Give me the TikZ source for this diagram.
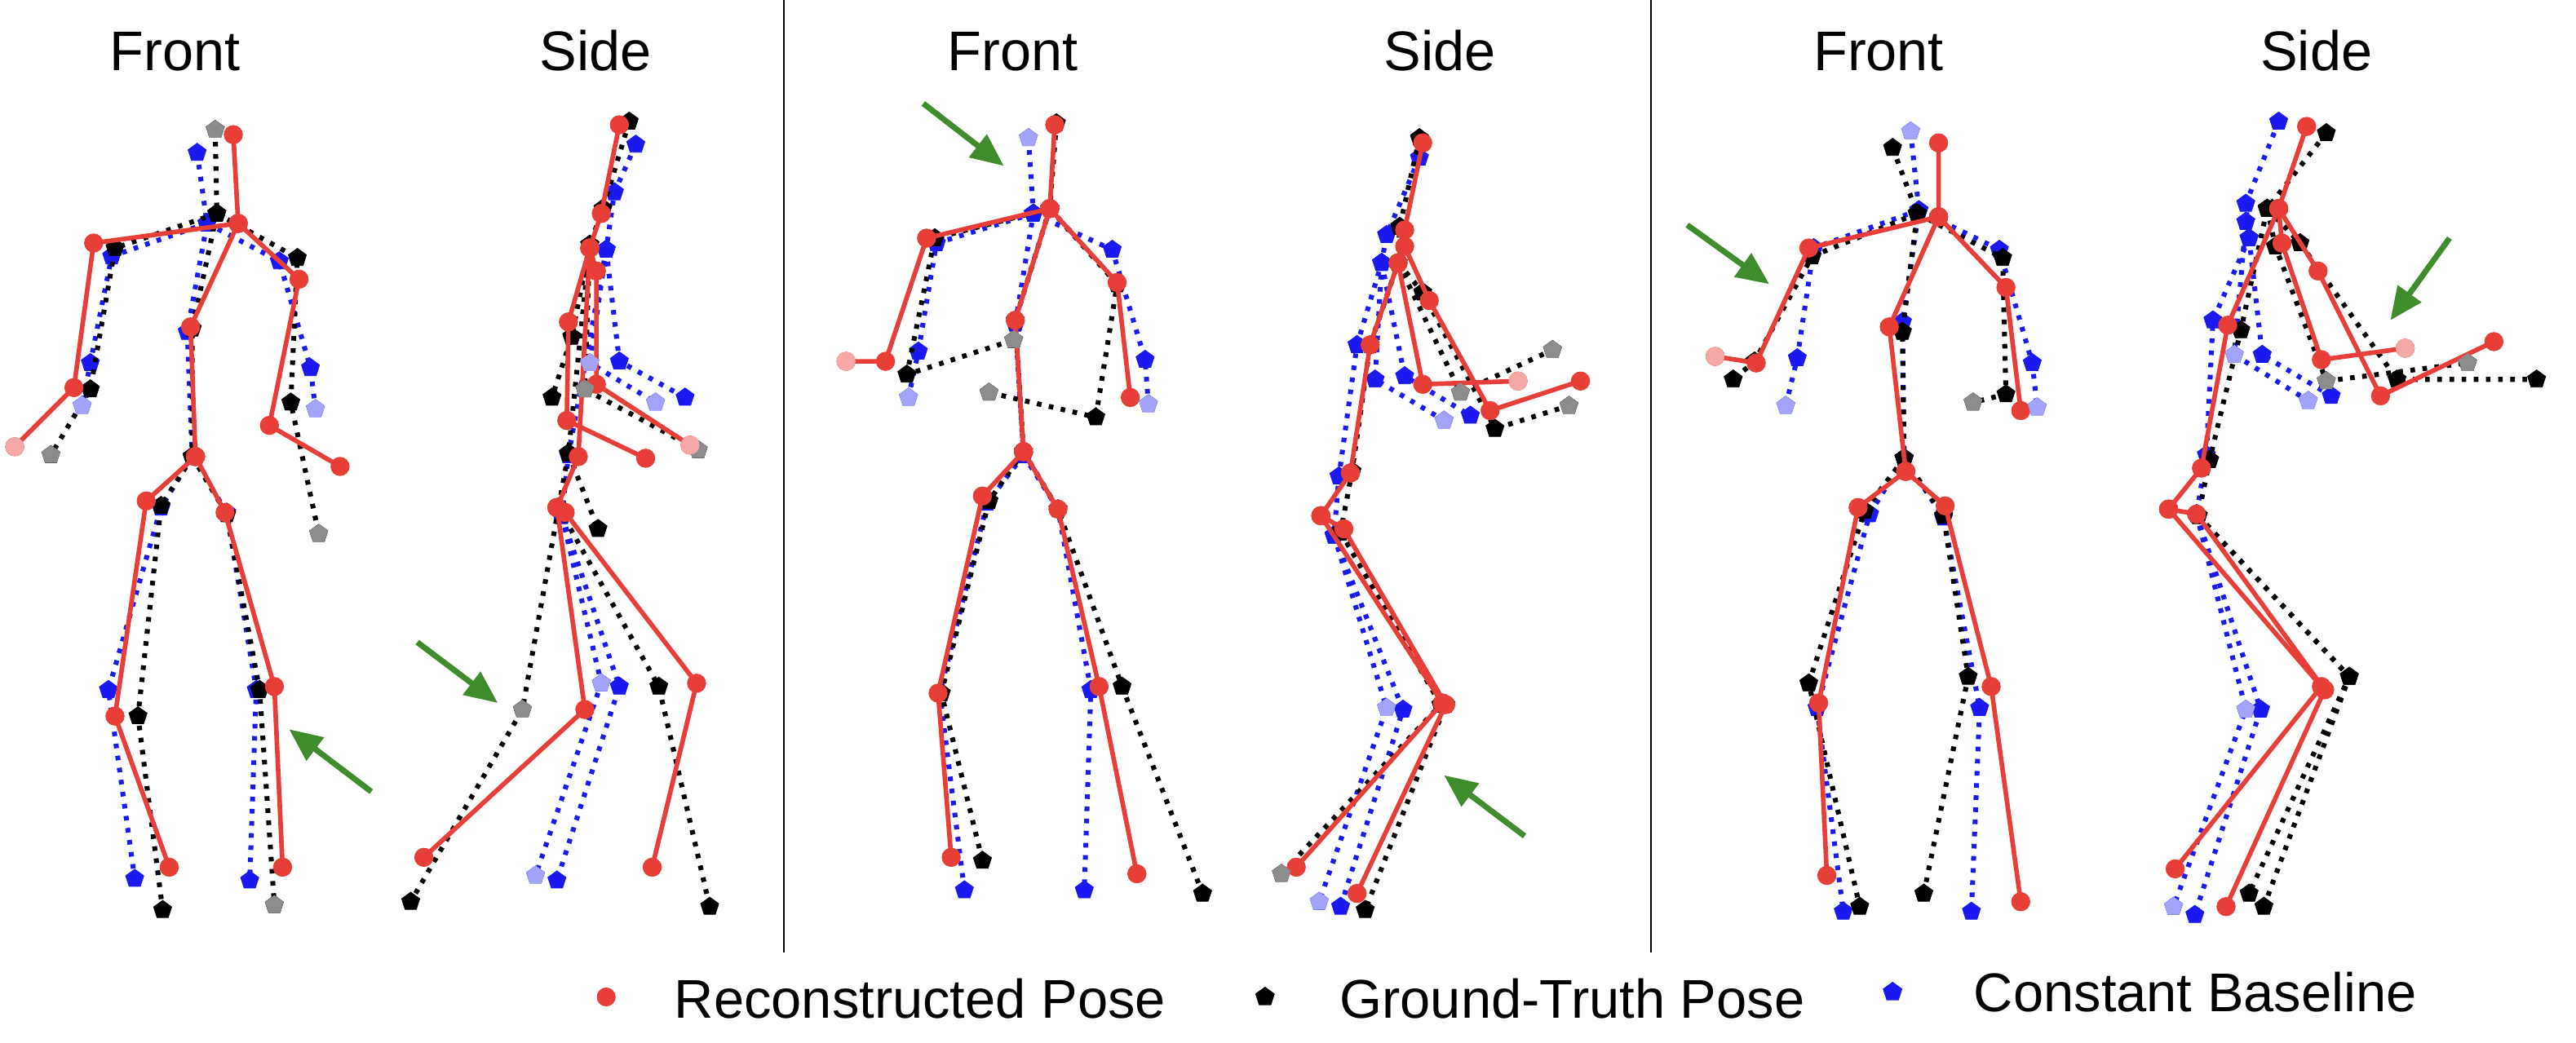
\documentclass[tikz,border=0pt]{standalone}
\usepackage{fontspec}
\setmainfont{Liberation Sans}
\usetikzlibrary{plotmarks,arrows.meta,shapes.geometric}
\definecolor{rcol}{RGB}{232,62,56}
\definecolor{bcol}{RGB}{25,25,240}
\definecolor{gcol}{RGB}{62,140,44}
\tikzset{
 redpose/.style={draw=rcol, line width=2.8pt, line join=round, mark=*, mark size=5.6pt, mark options={solid, draw=rcol, fill=rcol, line width=0.4pt}},
 gtpose/.style={draw=black, line width=3pt, dash pattern=on 2.8pt off 4.6pt, mark=pentagon*, mark size=5.8pt, mark options={solid, draw=black, fill=black, line width=0.4pt}},
 basepose/.style={draw=bcol, line width=3pt, dash pattern=on 2.8pt off 4.6pt, mark=pentagon*, mark size=5.8pt, mark options={solid, draw=bcol, fill=bcol, line width=0.4pt}},
 redfade/.style={circle, fill=rcol!45!white, inner sep=0pt, minimum size=11.5pt},
 gtfade/.style={regular polygon, regular polygon sides=5, fill=black!45, inner sep=0pt, minimum size=12pt},
 basefade/.style={regular polygon, regular polygon sides=5, fill=bcol!40!white, inner sep=0pt, minimum size=12pt},
 ttl/.style={font=\fontsize{34}{40}\selectfont, anchor=base},
 legtext/.style={font=\fontsize{33.2}{40}\selectfont, anchor=base west},
 hint/.style={draw=gcol, line width=3.5pt, -{Triangle[length=20pt,width=17pt]}},
 divider/.style={draw=black, line width=0.9pt},
}
\begin{document}
\begin{tikzpicture}[x=1pt,y=-1pt]
\useasboundingbox (0,0) rectangle (1568,635);
\fill[white] (0,0) rectangle (1568,635);

% dividers
\coordinate (d1t) at (477,0); \coordinate (d1b) at (477,580);
\coordinate (d2t) at (1005,0); \coordinate (d2b) at (1005,580);
\draw[divider] (d1t) -- (d1b);
\draw[divider] (d2t) -- (d2b);

% titles
\node[ttl] (t1) at (106.5,42.7) {Front};
\node[ttl] (t2) at (362.5,42.7) {Side};
\node[ttl] (t3) at (616.5,42.7) {Front};
\node[ttl] (t4) at (876.5,42.7) {Side};
\node[ttl] (t5) at (1143.5,42.7) {Front};
\node[ttl] (t6) at (1410,42.7) {Side};

% ================= Panel 1 front =================
\draw[basepose] plot coordinates {(120,93) (126,136) (114,202) (117,278)};
\draw[basepose] plot coordinates {(126,136) (68,156) (55,221) (50,247)};
\draw[basepose] plot coordinates {(126,136) (170,159) (189,224) (192,249)};
\draw[basepose] plot coordinates {(117,278) (98,309) (66,420) (82,535)};
\draw[basepose] plot coordinates {(117,278) (138,312) (156,420) (152,536)};
\draw[gtpose] plot coordinates {(131,79) (132,130) (117,200) (117,278)};
\draw[gtpose] plot coordinates {(132,130) (70,151) (55,237) (31,277)};
\draw[gtpose] plot coordinates {(132,130) (181,157) (177,245) (194,325)};
\draw[gtpose] plot coordinates {(117,278) (98,308) (84,436) (99,554)};
\draw[gtpose] plot coordinates {(117,278) (138,313) (158,420) (167,551)};
\draw[redpose] plot coordinates {(142,82) (145,136) (116,199) (119,278)};
\draw[redpose] plot coordinates {(145,136) (57,148) (45,236) (9,272)};
\draw[redpose] plot coordinates {(145,136) (182,170) (164,259) (207,284)};
\draw[redpose] plot coordinates {(119,278) (89,305) (70,436) (103,528)};
\draw[redpose] plot coordinates {(119,278) (137,312) (167,418) (172,528)};

% ================= Panel 1 side =================
\draw[basepose] plot coordinates {(387,88) (374,117) (369,152) (346,277) (342,314)};
\draw[basepose] plot coordinates {(369,152) (377,220) (417,242)};
\draw[basepose] plot coordinates {(369,152) (359,221) (399,245)};
\draw[basepose] plot coordinates {(342,314) (366,416) (326,533)};
\draw[basepose] plot coordinates {(342,314) (377,418) (339,536)};
\draw[gtpose] plot coordinates {(383,74) (367,127) (359,149) (346,276) (340,309)};
\draw[gtpose] plot coordinates {(359,149) (356,237) (425,274)};
\draw[gtpose] plot coordinates {(359,149) (348,205) (336,242)};
\draw[gtpose] plot coordinates {(346,276) (364,322)};
\draw[gtpose] plot coordinates {(340,309) (318,432) (250,549)};
\draw[gtpose] plot coordinates {(340,309) (401,418) (432,552)};
\draw[redpose] plot coordinates {(377,76) (366,130) (359,151) (352,278) (339,309)};
\draw[redpose] plot coordinates {(359,151) (363,165) (363,234) (420,271)};
\draw[redpose] plot coordinates {(359,151) (346,196) (345,256) (393,279)};
\draw[redpose] plot coordinates {(339,309) (356,432) (258,522)};
\draw[redpose] plot coordinates {(339,309) (344,312) (424,416) (397,528)};

% ================= Panel 2 front =================
\draw[basepose] plot coordinates {(626,84) (629,130) (618,197) (623,277)};
\draw[basepose] plot coordinates {(629,130) (570,148) (559,214) (553,242)};
\draw[basepose] plot coordinates {(629,130) (677,152) (697,219) (699,246)};
\draw[basepose] plot coordinates {(623,277) (601,306) (572,422) (587,542)};
\draw[basepose] plot coordinates {(623,277) (644,310) (664,420) (660,542)};
\draw[gtpose] plot coordinates {(643,75) (639,127) (618,195) (623,275)};
\draw[gtpose] plot coordinates {(639,127) (569,145) (552,228) (617,207)};
\draw[gtpose] plot coordinates {(639,127) (680,173) (667,254) (602,239)};
\draw[gtpose] plot coordinates {(623,275) (602,305) (573,422) (598,524)};
\draw[gtpose] plot coordinates {(623,275) (644,310) (683,418) (732,544)};
\draw[redpose] plot coordinates {(642,76) (639,127) (618,195) (623,275)};
\draw[redpose] plot coordinates {(639,127) (564,145) (539,220) (515,220)};
\draw[redpose] plot coordinates {(639,127) (680,172) (688,242)};
\draw[redpose] plot coordinates {(623,275) (598,302) (571,422) (579,522)};
\draw[redpose] plot coordinates {(623,275) (644,310) (669,418) (692,532)};

% ================= Panel 2 side =================
\draw[basepose] plot coordinates {(864,96) (844,143) (841,160) (826,210) (815,290) (812,326)};
\draw[basepose] plot coordinates {(841,160) (837,231) (879,256)};
\draw[basepose] plot coordinates {(841,160) (855,229) (895,253)};
\draw[basepose] plot coordinates {(812,326) (844,431) (803,549)};
\draw[basepose] plot coordinates {(812,326) (854,432) (816,552)};
\draw[gtpose] plot coordinates {(864,84) (852,138) (851,160) (834,210) (823,287) (816,324)};
\draw[gtpose] plot coordinates {(851,160) (866,178) (910,261) (955,247)};
\draw[gtpose] plot coordinates {(851,160) (889,239) (945,213)};
\draw[gtpose] plot coordinates {(816,324) (877,429) (780,532)};
\draw[gtpose] plot coordinates {(816,324) (880,429) (831,554)};
\draw[redpose] plot coordinates {(866,87) (855,140) (851,160) (834,210) (822,288) (804,314)};
\draw[redpose] plot coordinates {(851,160) (866,234) (924,232)};
\draw[redpose] plot coordinates {(855,150) (870,183) (907,250) (962,232)};
\draw[redpose] plot coordinates {(804,314) (878,428) (789,528)};
\draw[redpose] plot coordinates {(804,314) (818,322) (880,429) (826,544)};

% ================= Panel 3 front =================
\draw[basepose] plot coordinates {(1163,80) (1168,128) (1158,196) (1159,279)};
\draw[basepose] plot coordinates {(1168,128) (1104,151) (1094,218) (1087,247)};
\draw[basepose] plot coordinates {(1168,128) (1217,152) (1237,221) (1240,248)};
\draw[basepose] plot coordinates {(1159,279) (1138,313) (1106,431) (1122,555)};
\draw[basepose] plot coordinates {(1159,279) (1183,315) (1205,431) (1200,555)};
\draw[gtpose] plot coordinates {(1152,90) (1167,130) (1158,202) (1159,279)};
\draw[gtpose] plot coordinates {(1167,130) (1103,156) (1068,220) (1055,231)};
\draw[gtpose] plot coordinates {(1167,130) (1219,157) (1221,240) (1201,245)};
\draw[gtpose] plot coordinates {(1159,279) (1135,311) (1101,416) (1132,552)};
\draw[gtpose] plot coordinates {(1159,279) (1183,314) (1198,412) (1171,544)};
\draw[redpose] plot coordinates {(1180,87) (1180,132) (1150,199) (1160,287)};
\draw[redpose] plot coordinates {(1180,132) (1101,151) (1069,221) (1044,217)};
\draw[redpose] plot coordinates {(1180,132) (1221,175) (1230,250)};
\draw[redpose] plot coordinates {(1160,287) (1131,309) (1107,428) (1112,533)};
\draw[redpose] plot coordinates {(1160,287) (1184,308) (1212,418) (1230,549)};

% ================= Panel 3 side =================
\draw[basepose] plot coordinates {(1387,74) (1367,124) (1369,145) (1347,195) (1343,277) (1337,313)};
\draw[basepose] plot coordinates {(1369,145) (1377,216) (1419,241)};
\draw[basepose] plot coordinates {(1367,135) (1360,216) (1405,244)};
\draw[basepose] plot coordinates {(1337,313) (1367,432) (1323,552)};
\draw[basepose] plot coordinates {(1337,313) (1376,432) (1336,557)};
\draw[gtpose] plot coordinates {(1416,81) (1380,127) (1364,201) (1345,280) (1338,314)};
\draw[gtpose] plot coordinates {(1380,127) (1400,148) (1459,231) (1544,231)};
\draw[gtpose] plot coordinates {(1380,127) (1385,150) (1416,232) (1502,221)};
\draw[gtpose] plot coordinates {(1338,314) (1430,412) (1369,544)};
\draw[gtpose] plot coordinates {(1338,314) (1430,412) (1378,552)};
\draw[redpose] plot coordinates {(1404,77) (1387,127) (1356,198) (1340,285) (1320,310)};
\draw[redpose] plot coordinates {(1387,127) (1411,165) (1449,241) (1518,208)};
\draw[redpose] plot coordinates {(1387,127) (1389,148) (1413,219) (1464,212)};
\draw[redpose] plot coordinates {(1320,310) (1413,418) (1324,529)};
\draw[redpose] plot coordinates {(1320,310) (1337,313) (1415,420) (1355,552)};

% faded (transparent) joints
\foreach \p [count=\i] in {(50,247),(192,249),(359,221),(399,245),(366,416),(326,533),(553,242),(699,246),(626,84),(879,256),(844,431),(803,549),(1087,247),(1240,248),(1163,80),(1360,216),(1405,244),(1367,432),(1323,552)}
  \node[basefade] (bf\i) at \p {};
\foreach \p [count=\i] in {(31,277),(194,325),(167,551),(131,79),(356,237),(425,274),(318,432),(617,207),(602,239),(955,247),(889,239),(945,213),(780,532),(1201,245),(1416,232),(1502,221)}
  \node[gtfade] (kf\i) at \p {};
\foreach \p [count=\i] in {(9,272),(420,271),(515,220),(924,232),(1044,217),(1464,212)}
  \node[redfade] (rf\i) at \p {};

% green hint arrows
\coordinate (a1s) at (226,482); \coordinate (a1e) at (176,444);
\coordinate (a2s) at (254,391); \coordinate (a2e) at (303,428);
\coordinate (a3s) at (562,63);  \coordinate (a3e) at (611,101);
\coordinate (a4s) at (928,509); \coordinate (a4e) at (879,472);
\coordinate (a5s) at (1027,137); \coordinate (a5e) at (1077,173);
\coordinate (a6s) at (1491,145); \coordinate (a6e) at (1455,195);
\draw[hint] (a1s) -- (a1e);
\draw[hint] (a2s) -- (a2e);
\draw[hint] (a3s) -- (a3e);
\draw[hint] (a4s) -- (a4e);
\draw[hint] (a5s) -- (a5e);
\draw[hint] (a6s) -- (a6e);

% legend
\node[circle, fill=rcol, inner sep=0pt, minimum size=11.5pt] (lgr) at (369,607) {};
\node[regular polygon, regular polygon sides=5, fill=black, inner sep=0pt, minimum size=12.5pt] (lgk) at (770,607) {};
\node[regular polygon, regular polygon sides=5, fill=bcol, inner sep=0pt, minimum size=12.5pt] (lgb) at (1152,604) {};
\node[legtext] (lgrt) at (407,620) {Reconstructed Pose};
\node[legtext] (lgkt) at (812,620) {Ground-Truth Pose};
\node[legtext] (lgbt) at (1198,616) {Constant Baseline};
\end{tikzpicture}
\end{document}
